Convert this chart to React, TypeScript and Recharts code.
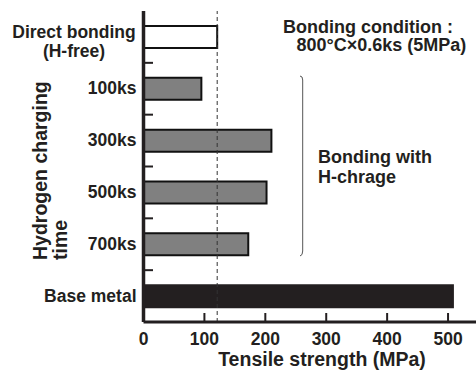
import React from 'react';
import { BarChart, Bar, XAxis, YAxis, Cell, ReferenceLine, Customized } from 'recharts';

const categories = ['Direct bonding|(H-free)', '100ks', '300ks', '500ks', '700ks', 'Base metal'];
const strength = [121, 95, 210, 202, 172, 508];
const groups = ['free', 'charged', 'charged', 'charged', 'charged', 'base'];
const xTicks = [0, 100, 200, 300, 400, 500];
const directBondingLevel = 121;

const INK = '#231f20';
const FONT = '"Liberation Sans", Arial, Helvetica, sans-serif';
const fills: Record<string, string> = { free: '#ffffff', charged: '#808080', base: INK };

const data = categories.map((name, i) => ({ name, value: strength[i], group: groups[i] }));

function CatTick(props: any) {
  const { x, y, payload, index } = props;
  const axisX = x + 7;
  const half = payload && payload.offset ? payload.offset : 26;
  const lines = String(payload.value).split('|');
  return (
    <g>
      {index < categories.length - 1 && (
        <line x1={axisX + 1.5} x2={axisX + 9.5} y1={y + half} y2={y + half} stroke={INK} strokeWidth={2} />
      )}
      {lines.length > 1 ? (
        <text fontFamily={FONT} fontWeight="bold" fontSize={17.5} fill={INK} textAnchor="middle">
          <tspan x={x - 62.5} y={y + 1.5}>{lines[0]}</tspan>
          <tspan x={x - 62.5} y={y + 20}>{lines[1]}</tspan>
        </text>
      ) : (
        <text x={x} y={y + 5.5} fontFamily={FONT} fontWeight="bold" fontSize={17.5} fill={INK} textAnchor="end">
          {lines[0]}
        </text>
      )}
    </g>
  );
}

function Annotations() {
  return (
    <g fontFamily={FONT} fontWeight="bold" fill={INK}>
      <text x={283} y={33} fontSize={18}>Bonding condition :</text>
      <text x={296.5} y={51} fontSize={18}>800°C×0.6ks (5MPa)</text>
      <text x={318} y={163} fontSize={18}>Bonding with</text>
      <text x={318} y={183} fontSize={18}>H-chrage</text>
      <path d="M300 76 Q302.7 76 302.7 80 L302.7 251 Q302.7 255.5 300 256" fill="none" stroke="#555" strokeWidth={1} />
      <text transform="translate(46.7,260) rotate(-90)" fontSize={19.5}>
        <tspan x={0} y={0}>Hydrogen charging</tspan>
        <tspan x={0} y={20}>time</tspan>
      </text>
      <text x={322} y={366} fontSize={19.5} textAnchor="middle">Tensile strength (MPa)</text>
    </g>
  );
}

export default function App() {
  return (
    <div style={{ position: 'absolute', left: 0, top: 0, width: 476, height: 373, overflow: 'hidden', background: '#fff' }}>
      <BarChart
        width={480}
        height={373}
        data={data}
        layout="vertical"
        margin={{ top: 11, right: 1.5, left: 0, bottom: 0 }}
        barCategoryGap={0}
      >
        <XAxis
          type="number"
          domain={[0, 550]}
          ticks={xTicks}
          allowDataOverflow
          height={51}
          tickSize={-9}
          tickMargin={19.6}
          axisLine={{ stroke: INK, strokeWidth: 3 }}
          tickLine={{ stroke: INK, strokeWidth: 2 }}
          tick={{ fill: INK, fontSize: 17.5, fontWeight: 'bold', fontFamily: FONT }}
        />
        <XAxis
          xAxisId="top"
          orientation="top"
          type="number"
          domain={[0, 550]}
          height={0}
          tick={false}
          tickLine={false}
          axisLine={{ stroke: INK, strokeWidth: 3 }}
        />
        <YAxis
          type="category"
          dataKey="name"
          width={143.5}
          tickSize={0}
          tickMargin={7}
          tickLine={false}
          interval={0}
          axisLine={{ stroke: INK, strokeWidth: 3.5 }}
          tick={<CatTick />}
        />
        <ReferenceLine x={directBondingLevel} stroke="#333" strokeWidth={1} strokeDasharray="4 3" />
        <Bar dataKey="value" barSize={22} stroke="#111" strokeWidth={2} isAnimationActive={false}>
          {data.map((d, i) => (
            <Cell key={i} fill={fills[d.group]} stroke={d.group === 'base' ? INK : '#111'} />
          ))}
        </Bar>
        <Customized component={<Annotations />} />
      </BarChart>
    </div>
  );
}
